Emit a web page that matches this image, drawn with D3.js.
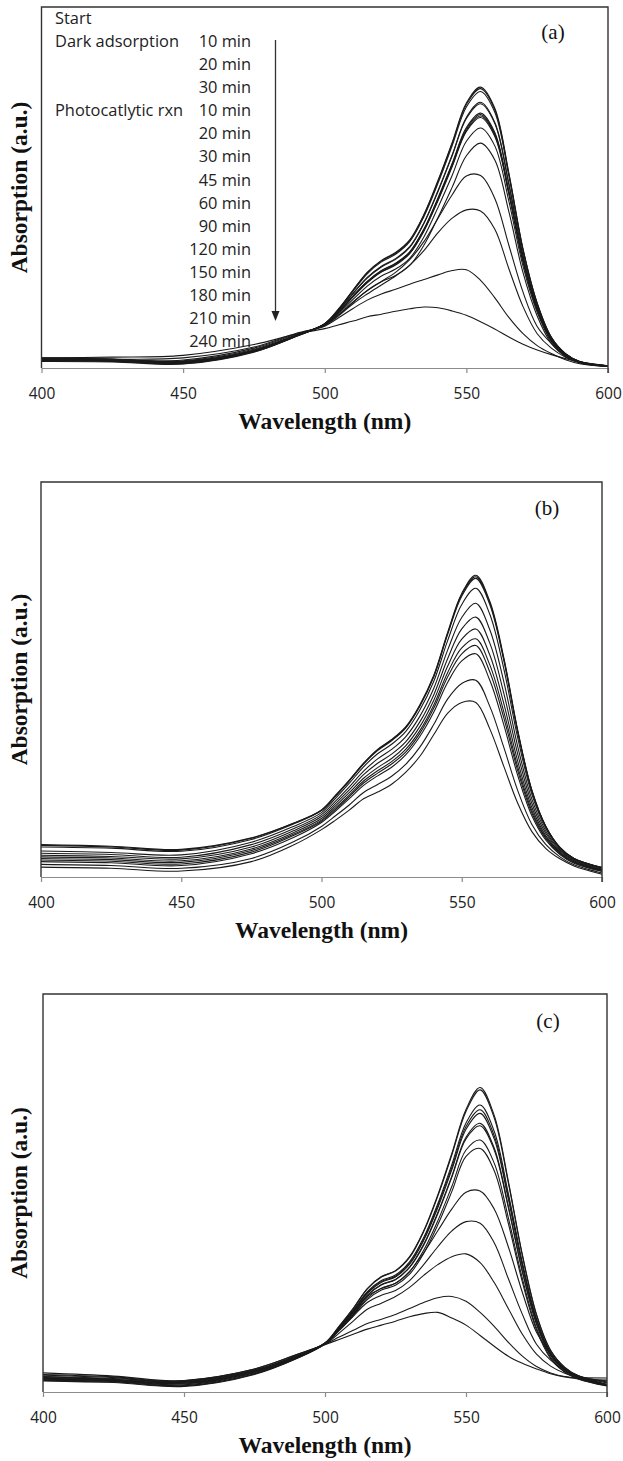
<!DOCTYPE html>
<html>
<head>
<meta charset="utf-8">
<script src="https://cdn.jsdelivr.net/npm/d3@7"></script>
<style>
  body { margin: 0; background: #fff; }
  .tick text { font-family: "Open Sans", sans-serif; font-size: 15.5px; fill: #222; }
  .axisTitle { font-family: "Liberation Serif", "Times New Roman", serif; font-weight: bold; font-size: 23.5px; fill: #111; }
  .panelLabel { font-family: "Liberation Serif", "Times New Roman", serif; font-size: 21px; fill: #111; }
  .legendText { font-family: "Open Sans", sans-serif; font-size: 16.4px; fill: #222; }
</style>
</head>
<body>
<script>
// wavelength grid (nm) shared by every spectrum
var wavelengths = [400, 425, 450, 475, 490, 500, 505, 510, 515, 520, 525, 530, 535, 540, 545, 550, 555, 560, 565, 570, 575, 580, 585, 590, 600];
var tickValues = [400, 450, 500, 550, 600];

var legendLeft = ["Start", "Dark adsorption", "", "", "Photocatlytic rxn", "", "", "", "", "", "", "", "", "", ""];
var legendRight = ["", "10 min", "20 min", "30 min", "10 min", "20 min", "30 min", "45 min", "60 min", "90 min", "120 min", "150 min", "180 min", "210 min", "240 min"];

// absorption, % of plot height
var spectraA = [
  [2.5, 2.3, 1.6, 4.8, 9.0, 12.3, 16.5, 21.6, 26.5, 29.8, 32.0, 35.5, 42.5, 52.0, 62.5, 73.4, 77.8, 72.0, 54.0, 33.0, 18.0, 8.5, 4.0, 1.8, 0.6],
  [2.8, 2.5, 1.8, 4.9, 9.0, 12.3, 16.4, 21.5, 26.4, 29.6, 31.8, 35.3, 42.3, 51.7, 62.2, 73.0, 77.4, 71.6, 53.7, 32.8, 17.9, 8.5, 4.0, 1.8, 0.6],
  [2.2, 2.0, 1.3, 4.6, 8.9, 12.3, 16.3, 21.3, 26.1, 29.4, 31.5, 35.0, 41.9, 51.2, 61.6, 72.3, 76.6, 70.9, 53.2, 32.5, 17.7, 8.4, 3.9, 1.8, 0.6],
  [2.6, 2.4, 1.7, 4.8, 9.0, 12.2, 16.1, 20.7, 25.1, 28.2, 30.3, 33.6, 40.2, 49.2, 59.1, 69.4, 73.6, 68.1, 51.1, 31.2, 17.0, 8.0, 3.8, 1.7, 0.6],
  [2.0, 1.9, 1.2, 4.5, 8.8, 12.2, 16.0, 20.6, 24.9, 28.0, 30.1, 33.4, 40.0, 48.9, 58.8, 69.1, 73.2, 67.8, 50.8, 31.1, 16.9, 8.0, 3.8, 1.7, 0.6],
  [2.4, 2.2, 1.5, 4.7, 8.9, 12.1, 15.7, 20.0, 24.0, 27.0, 29.0, 32.2, 38.5, 47.2, 56.7, 66.6, 70.6, 65.3, 49.0, 29.9, 16.3, 7.7, 3.6, 1.6, 0.5],
  [1.8, 1.7, 1.1, 4.4, 8.8, 12.1, 15.6, 19.9, 23.9, 26.9, 28.9, 32.0, 38.3, 46.9, 56.4, 66.2, 70.2, 64.9, 48.7, 29.8, 16.2, 7.7, 3.6, 1.6, 0.5],
  [2.6, 2.4, 1.8, 4.9, 9.0, 12.1, 15.6, 19.8, 23.8, 26.7, 28.7, 31.8, 38.1, 46.6, 56.1, 65.8, 69.8, 64.6, 48.4, 29.6, 16.1, 7.6, 3.6, 1.6, 0.5],
  [2.1, 2.0, 1.4, 4.6, 8.9, 12.1, 15.5, 19.7, 23.6, 26.6, 28.5, 31.7, 37.9, 46.4, 55.8, 65.5, 69.4, 64.2, 48.2, 29.4, 16.1, 7.6, 3.6, 1.6, 0.5],
  [2.3, 2.2, 1.6, 4.8, 9.0, 12.0, 15.2, 19.0, 22.7, 25.5, 27.4, 30.4, 36.3, 44.5, 53.4, 62.8, 66.5, 61.6, 46.2, 28.2, 15.4, 7.3, 3.4, 1.5, 0.5],
  [2.0, 1.9, 1.4, 4.7, 9.0, 12.0, 14.8, 18.3, 21.4, 23.9, 25.6, 28.4, 34.0, 41.7, 50.1, 58.8, 62.3, 57.7, 43.3, 26.4, 14.4, 6.8, 3.2, 1.4, 0.5],
  [2.4, 2.3, 2.0, 5.2, 9.2, 12.0, 14.8, 18.2, 21.5, 24.0, 26.5, 30.0, 35.0, 41.5, 48.0, 53.2, 53.3, 47.0, 34.0, 21.0, 11.5, 6.8, 3.2, 1.5, 0.4],
  [2.2, 2.1, 2.2, 5.5, 9.4, 11.8, 14.5, 17.8, 20.5, 23.0, 25.5, 28.5, 32.5, 37.5, 41.5, 43.8, 43.5, 38.5, 27.5, 17.0, 9.5, 5.5, 3.0, 1.6, 0.5],
  [2.0, 2.4, 2.8, 5.8, 9.6, 11.6, 14.0, 16.5, 18.8, 20.5, 21.8, 23.2, 24.5, 25.8, 27.0, 27.2, 24.3, 19.5, 14.0, 9.5, 6.2, 4.0, 2.3, 1.2, 0.4],
  [2.8, 3.0, 3.5, 6.5, 9.4, 10.9, 12.0, 13.0, 14.2, 14.9, 15.7, 16.4, 16.9, 16.7, 15.8, 14.6, 12.8, 10.8, 8.6, 6.6, 5.0, 3.7, 2.6, 1.7, 0.6]
];

// panel (b)
var spectraB = [
  [8.0, 7.6, 6.8, 9.8, 13.6, 17.0, 20.7, 24.6, 28.8, 32.3, 34.8, 38.0, 43.5, 51.0, 62.0, 71.8, 76.4, 69.8, 55.5, 37.0, 22.0, 12.8, 7.5, 4.7, 2.4],
  [7.6, 7.3, 6.5, 9.5, 13.4, 16.8, 20.5, 24.5, 28.7, 32.2, 34.7, 37.9, 43.3, 50.8, 61.7, 71.5, 76.0, 69.4, 55.2, 36.8, 21.9, 12.7, 7.5, 4.7, 2.4],
  [8.2, 7.8, 7.0, 9.9, 13.6, 16.9, 20.5, 24.4, 28.6, 32.0, 34.5, 37.7, 43.2, 50.6, 61.5, 71.1, 75.6, 69.0, 54.8, 36.5, 21.7, 12.7, 7.4, 4.7, 2.4],
  [6.6, 6.2, 5.6, 8.8, 12.8, 16.3, 19.9, 23.8, 27.9, 31.2, 33.6, 36.8, 42.2, 49.5, 59.9, 69.0, 73.1, 66.5, 52.7, 35.1, 20.9, 12.2, 7.2, 4.5, 2.2],
  [6.0, 5.7, 5.0, 8.2, 12.2, 15.8, 19.2, 22.9, 26.8, 29.9, 32.3, 35.5, 40.6, 47.7, 57.5, 65.7, 69.3, 62.6, 49.4, 32.9, 19.7, 11.6, 6.9, 4.3, 2.0],
  [5.5, 5.2, 4.6, 7.6, 11.7, 15.3, 18.6, 22.1, 25.9, 28.8, 31.1, 34.2, 39.2, 46.1, 55.3, 62.8, 65.8, 59.2, 46.5, 31.0, 18.6, 11.0, 6.6, 4.1, 1.8],
  [5.1, 4.8, 4.1, 7.1, 11.2, 14.8, 18.0, 21.4, 25.0, 27.7, 30.0, 33.2, 38.0, 44.7, 53.4, 60.2, 62.8, 56.2, 43.9, 29.2, 17.6, 10.4, 6.3, 3.9, 1.7],
  [4.7, 4.4, 3.7, 6.7, 10.8, 14.4, 17.5, 20.8, 24.3, 26.9, 29.2, 32.3, 37.0, 43.5, 51.8, 58.0, 60.3, 53.7, 41.8, 27.8, 16.8, 10.0, 6.1, 3.8, 1.6],
  [4.3, 4.0, 3.3, 6.3, 10.5, 14.1, 17.1, 20.4, 23.8, 26.3, 28.6, 31.6, 36.3, 42.7, 50.7, 56.5, 58.6, 51.9, 40.3, 26.8, 16.2, 9.7, 5.9, 3.7, 1.5],
  [3.9, 3.6, 2.9, 5.9, 10.0, 13.8, 16.7, 19.9, 23.2, 25.6, 27.8, 30.9, 35.5, 41.7, 49.3, 54.7, 56.5, 49.8, 38.5, 25.6, 15.5, 9.3, 5.7, 3.5, 1.4],
  [3.2, 2.9, 2.2, 4.7, 8.9, 12.8, 15.5, 18.3, 21.4, 23.4, 25.5, 28.5, 32.8, 38.6, 45.1, 49.0, 49.8, 43.2, 32.8, 21.8, 13.3, 8.2, 5.1, 3.1, 1.0],
  [2.5, 2.2, 1.5, 3.9, 8.1, 12.0, 14.4, 17.0, 19.8, 21.5, 23.5, 26.5, 30.5, 36.0, 41.5, 44.2, 44.2, 37.5, 28.0, 18.6, 11.5, 7.2, 4.6, 2.8, 0.7]
];

// panel (c)
var spectraC = [
  [4.8, 4.0, 2.8, 5.6, 8.8, 12.3, 16.5, 21.0, 26.0, 29.0, 30.5, 34.0, 40.5, 49.5, 60.0, 71.0, 76.5, 69.5, 53.0, 34.5, 19.5, 10.5, 6.2, 4.0, 1.9],
  [3.2, 2.8, 1.6, 4.6, 8.5, 12.2, 16.5, 20.9, 25.9, 28.9, 30.4, 33.8, 40.3, 49.2, 59.6, 70.5, 75.9, 68.9, 52.6, 34.2, 19.3, 10.4, 6.2, 4.0, 1.9],
  [4.2, 3.6, 2.4, 5.2, 8.8, 12.3, 16.2, 20.5, 25.2, 28.0, 29.4, 32.7, 38.8, 47.3, 57.2, 67.6, 72.1, 65.5, 49.9, 32.5, 18.4, 9.9, 5.8, 3.8, 1.8],
  [2.9, 2.4, 1.4, 4.4, 8.4, 12.1, 16.2, 20.3, 25.0, 27.8, 29.1, 32.4, 38.4, 46.8, 56.5, 66.7, 70.9, 64.4, 49.1, 32.0, 18.1, 9.7, 5.7, 3.7, 1.8],
  [3.8, 3.2, 2.0, 5.0, 8.7, 12.2, 16.1, 20.2, 24.8, 27.6, 28.9, 32.1, 38.1, 46.3, 55.9, 66.0, 70.0, 63.6, 48.5, 31.6, 17.8, 9.6, 5.7, 3.7, 1.7],
  [3.4, 2.9, 1.8, 4.8, 8.6, 12.2, 16.0, 19.9, 24.3, 27.0, 28.3, 31.4, 37.1, 45.1, 54.3, 64.0, 67.5, 61.3, 46.7, 30.4, 17.2, 9.3, 5.5, 3.5, 1.7],
  [4.4, 3.8, 2.6, 5.4, 8.9, 12.3, 15.9, 19.9, 24.3, 26.9, 28.2, 31.3, 36.9, 44.8, 54.0, 63.6, 66.9, 60.8, 46.4, 30.2, 17.1, 9.2, 5.4, 3.5, 1.7],
  [3.0, 2.6, 1.5, 4.5, 8.5, 12.1, 15.7, 19.4, 23.6, 26.1, 27.3, 30.2, 35.6, 43.0, 51.7, 60.8, 63.3, 57.5, 43.8, 28.5, 16.1, 8.7, 5.1, 3.3, 1.6],
  [3.6, 3.1, 2.2, 5.0, 8.7, 12.2, 15.6, 19.2, 23.2, 25.6, 26.8, 29.6, 34.8, 42.0, 50.4, 59.2, 61.2, 55.6, 42.4, 27.6, 15.6, 8.4, 5.0, 3.2, 1.5],
  [3.9, 3.4, 2.6, 5.4, 9.0, 12.2, 15.6, 19.5, 24.0, 26.0, 27.3, 30.3, 35.0, 40.5, 46.0, 50.2, 50.5, 46.0, 36.5, 25.0, 15.0, 9.5, 6.0, 4.0, 2.3],
  [3.3, 2.9, 2.2, 5.2, 9.0, 12.1, 15.4, 19.0, 22.5, 24.3, 25.5, 28.0, 32.0, 36.5, 40.5, 42.8, 42.4, 37.5, 28.5, 19.5, 12.0, 8.0, 5.5, 4.0, 2.5],
  [3.0, 2.7, 2.5, 5.4, 9.2, 12.0, 14.8, 17.8, 20.8, 22.3, 24.0, 26.3, 29.3, 32.0, 34.0, 34.7, 32.5, 27.5, 21.0, 14.5, 9.5, 6.5, 4.7, 3.6, 3.0],
  [3.5, 3.0, 2.9, 5.8, 9.4, 12.0, 13.8, 15.5, 17.2, 18.3, 19.5, 21.0, 22.5, 23.7, 24.0, 22.8, 20.0, 16.5, 12.5, 9.0, 6.4, 4.8, 3.9, 3.6, 3.5],
  [2.8, 2.5, 2.8, 5.8, 9.4, 11.9, 13.2, 14.5, 15.8, 16.8, 17.8, 18.9, 19.7, 20.0, 18.6, 16.8, 14.2, 11.5, 9.0, 7.2, 5.8, 4.6, 3.8, 3.3, 2.8]
];

var width = 623,
  height = 1461;

var panels = [
  { label: "(a)", spectra: spectraA, left: 41.5, right: 608, top: 7, bottom: 368, labelX: 553, labelY: 39 },
  { label: "(b)", spectra: spectraB, left: 41, right: 602, top: 482, bottom: 877, labelX: 547, labelY: 515 },
  { label: "(c)", spectra: spectraC, left: 43, right: 607, top: 994, bottom: 1392, labelX: 548, labelY: 1028 }
];

var svg = d3
  .select("body")
  .append("svg")
  .attr("width", width)
  .attr("height", height);

panels.forEach(function (p, idx) {
  drawPanel(p, idx);
});

function drawPanel(p, idx) {
  var x = d3.scaleLinear().domain([400, 600]).range([p.left, p.right]);
  var y = d3.scaleLinear().domain([0, 100]).range([p.bottom, p.top]);

  var g = svg.append("g").attr("class", "panel");

  // smooth curve through the read points
  var line = d3
    .line()
    .x(function (d, i) { return x(wavelengths[i]); })
    .y(function (d) { return y(d); })
    .curve(d3.curveCatmullRom.alpha(0.5));

  g.selectAll(".spectrum")
    .data(p.spectra)
    .enter()
    .append("path")
    .attr("class", "spectrum")
    .attr("d", line)
    .attr("fill", "none")
    .attr("stroke", "#1a1a1a")
    .attr("stroke-width", 1.1);

  // bottom axis (light grey line, ticks pointing down)
  var xAxis = d3
    .axisBottom(x)
    .tickValues(tickValues)
    .tickSizeInner(5)
    .tickSizeOuter(0)
    .tickPadding(15);

  var axis = g
    .append("g")
    .attr("transform", "translate(0," + p.bottom + ")")
    .call(xAxis);
  axis.select(".domain").attr("stroke", "#8c8c8c").attr("stroke-width", 1.2);
  axis.selectAll(".tick line").attr("stroke", "#8c8c8c").attr("stroke-width", 1.2);

  // frame: left, top, right
  g.append("path")
    .attr("d", "M" + p.left + "," + p.bottom + "V" + p.top + "H" + p.right + "V" + (p.bottom + 5))
    .attr("fill", "none")
    .attr("stroke", "#333")
    .attr("stroke-width", 1.4);

  g.append("text")
    .attr("class", "axisTitle")
    .attr("x", (p.left + p.right) / 2)
    .attr("y", p.bottom + 61)
    .attr("text-anchor", "middle")
    .text("Wavelength (nm)");

  g.append("text")
    .attr("class", "axisTitle")
    .attr("transform", "translate(27," + (p.top + p.bottom) / 2 + ") rotate(-90)")
    .attr("text-anchor", "middle")
    .text("Absorption (a.u.)");

  g.append("text")
    .attr("class", "panelLabel")
    .attr("x", p.labelX)
    .attr("y", p.labelY)
    .attr("text-anchor", "middle")
    .text(p.label);

  if (idx == 0) {
    drawLegend(g);
  }
}

function drawLegend(g) {
  var rowY = function (i) { return 18 + i * 23.1 + 5.8; };

  g.selectAll(".legLeft")
    .data(legendLeft)
    .enter()
    .append("text")
    .attr("class", "legendText")
    .attr("x", 55)
    .attr("y", function (d, i) { return rowY(i); })
    .text(function (d) { return d; });

  g.selectAll(".legRight")
    .data(legendRight)
    .enter()
    .append("text")
    .attr("class", "legendText")
    .attr("x", 251)
    .attr("y", function (d, i) { return rowY(i); })
    .attr("text-anchor", "end")
    .text(function (d) { return d; });

  // arrow showing the time order
  g.append("line")
    .attr("x1", 275.5)
    .attr("x2", 275.5)
    .attr("y1", 40)
    .attr("y2", 312)
    .attr("stroke", "#333")
    .attr("stroke-width", 1.3);
  g.append("path")
    .attr("d", "M271.5,311L279.5,311L275.5,321Z")
    .attr("fill", "#222");
}
</script>
</body>
</html>
